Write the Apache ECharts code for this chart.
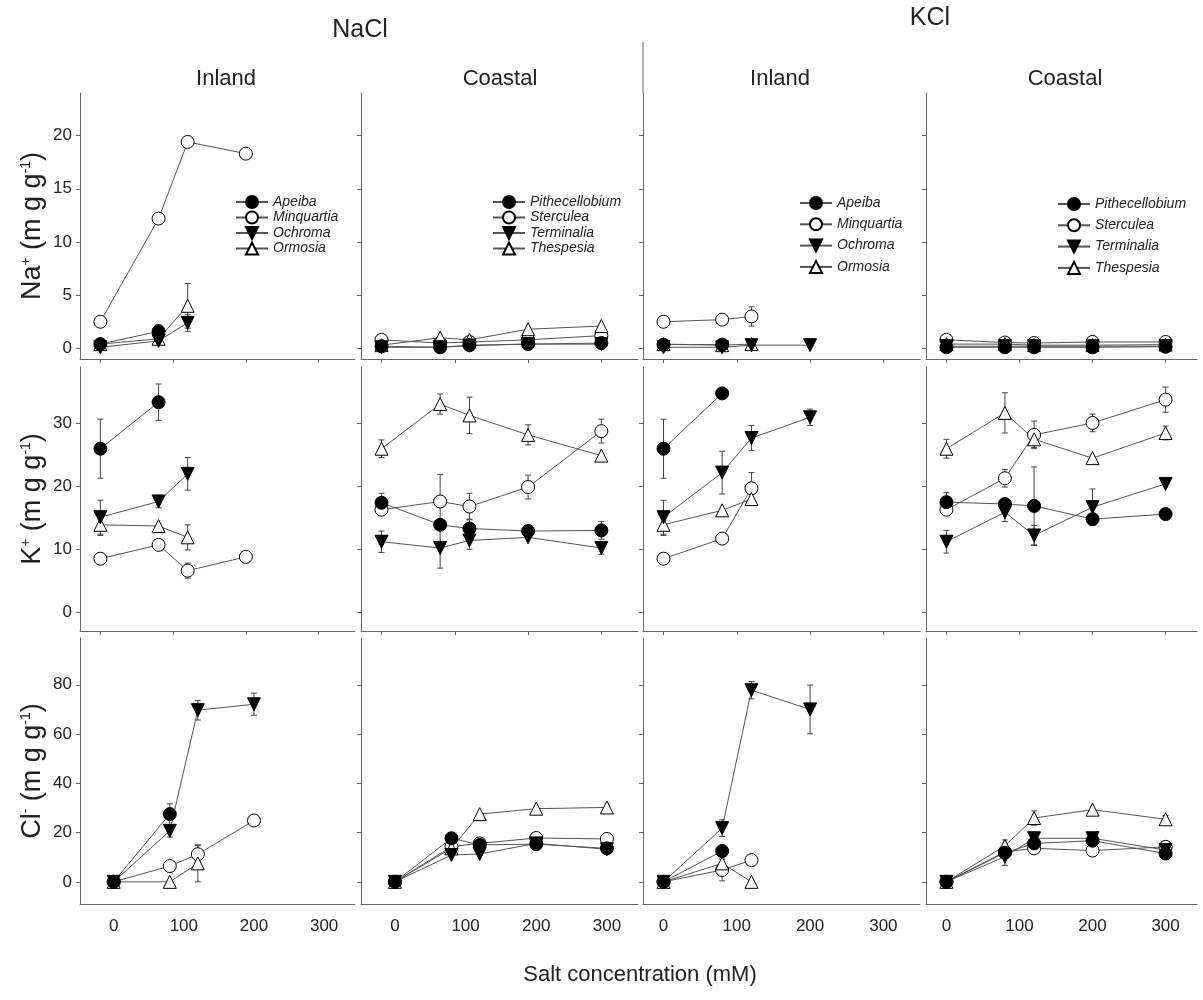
<!DOCTYPE html>
<html>
<head>
<meta charset="utf-8">
<script src="https://cdn.jsdelivr.net/npm/echarts@6/dist/echarts.min.js"></script>
<style>
html, body { margin: 0; background: #fff; }
#main { width: 1203px; height: 1000px; }
</style>
</head>
<body>
<div id="main"></div>
<script>
// salt levels (mM) shared by every panel
const saltLevels = [0, 80, 120, 200, 300];
const inlandSpecies = ['Apeiba', 'Minquartia', 'Ochroma', 'Ormosia'];
const coastalSpecies = ['Pithecellobium', 'Sterculea', 'Terminalia', 'Thespesia'];
const xTicks = [0, 100, 200, 300];
const naTicks = [0, 5, 10, 15, 20];
const kTicks = [0, 10, 20, 30];
const clTicks = [0, 20, 40, 60, 80];

// Na+ (mg g-1), one row per species, null = not measured
const naNaClInland = [
    [0.4, 1.6, null, null, null],
    [2.5, 12.2, 19.4, 18.3, null],
    [0.1, 0.7, 2.4, null, null],
    [0.4, 0.9, 4.0, null, null]
];
const naNaClInlandErr = [
    [null, 0.6, null, null, null],
    [null, null, null, null, null],
    [null, null, 0.8, null, null],
    [null, null, 2.1, null, null]
];
const naNaClCoastal = [
    [0.2, 0.1, 0.3, 0.4, 0.5],
    [0.8, 0.5, 0.6, 0.8, 1.2],
    [0.1, 0.1, 0.25, 0.4, 0.4],
    [0.3, 1.0, 0.8, 1.8, 2.1]
];
const naNaClCoastalErr = [
    [null, null, null, null, null],
    [null, null, null, null, null],
    [null, null, null, null, null],
    [null, null, null, null, null]
];
const naKClInland = [
    [0.35, 0.35, null, null, null],
    [2.5, 2.7, 3.0, null, null],
    [0.1, 0.1, 0.3, 0.3, null],
    [0.4, 0.3, 0.4, null, null]
];
const naKClInlandErr = [
    [null, null, null, null, null],
    [null, null, 0.9, null, null],
    [null, null, null, null, null],
    [null, null, null, null, null]
];
const naKClCoastal = [
    [0.1, 0.1, 0.1, 0.1, 0.15],
    [0.8, 0.55, 0.5, 0.6, 0.6],
    [0.2, 0.2, 0.2, 0.2, 0.2],
    [0.4, 0.4, 0.3, 0.3, 0.35]
];
const naKClCoastalErr = [
    [null, null, null, null, null],
    [null, null, null, null, null],
    [null, null, null, null, null],
    [null, null, null, null, null]
];

// K+ (mg g-1)
const kNaClInland = [
    [26.0, 33.4, null, null, null],
    [8.5, 10.7, 6.6, 8.8, null],
    [15.1, 17.6, 22.0, null, null],
    [13.9, 13.7, 11.9, null, null]
];
const kNaClInlandErr = [
    [4.7, 2.9, null, null, null],
    [null, null, 1.2, null, null],
    [2.7, 1.0, 2.6, null, null],
    [1.7, null, 2.0, null, null]
];
const kNaClCoastal = [
    [17.4, 13.9, 13.3, 12.9, 13.0],
    [16.3, 17.6, 16.8, 19.9, 28.8],
    [11.2, 10.2, 11.4, 11.9, 10.2],
    [26.0, 33.1, 31.3, 28.2, 24.9]
];
const kNaClCoastalErr = [
    [1.5, null, 1.5, 0.8, 1.4],
    [null, 4.3, 2.1, 1.9, 1.9],
    [1.7, 3.2, 1.4, null, 1.0],
    [1.4, 1.6, 2.9, 1.6, null]
];
const kKClInland = [
    [26.0, 34.8, null, null, null],
    [8.5, 11.7, 19.7, null, null],
    [15.1, 22.2, 27.7, 31.0, null],
    [13.9, 16.2, 18.0, null, null]
];
const kKClInlandErr = [
    [4.7, null, null, null, null],
    [null, null, 2.5, null, null],
    [2.7, 3.4, 2.0, 1.3, null],
    [1.7, null, 0.8, null, null]
];
const kKClCoastal = [
    [17.5, 17.2, 16.9, 14.8, 15.6],
    [16.3, 21.3, 28.2, 30.1, 33.8],
    [11.2, 15.9, 12.2, 16.7, 20.4],
    [26.0, 31.7, 27.5, 24.5, 28.5]
];
const kKClCoastalErr = [
    [1.5, null, 6.2, null, null],
    [null, 1.4, 2.2, 1.4, 2.0],
    [1.8, 1.5, 1.6, 2.9, null],
    [1.5, 3.2, 1.3, null, 1.1]
];

// Cl- (mg g-1)
const clNaClInland = [
    [0, 27.5, null, null, null],
    [0, 6.4, 11.2, 24.9, null],
    [0, 20.7, 69.7, 72.1, null],
    [0, 0, 7.5, null, null]
];
const clNaClInlandErr = [
    [null, 4.2, null, null, null],
    [null, null, 3.5, null, null],
    [null, 2.5, 4.0, 4.5, null],
    [null, null, 7.5, null, null]
];
const clNaClCoastal = [
    [0, 17.7, 15.0, 15.3, 13.6],
    [0, 14.3, 15.6, 17.8, 17.4],
    [0, 10.9, 11.3, 15.6, 13.2],
    [0, 13.6, 27.5, 29.7, 30.2]
];
const clNaClCoastalErr = [
    [null, null, null, null, null],
    [null, null, null, null, null],
    [null, null, null, null, 1.5],
    [null, null, null, null, null]
];
const clKClInland = [
    [0, 12.5, null, null, null],
    [0, 4.8, 8.8, null, null],
    [0, 21.8, 77.8, 70.0, null],
    [0, 7.5, 0, null, null]
];
const clKClInlandErr = [
    [null, null, null, null, null],
    [null, 4.4, null, null, null],
    [null, 3.4, 3.5, 9.9, null],
    [null, null, null, null, null]
];
const clKClCoastal = [
    [0, 11.8, 15.6, 16.7, 11.5],
    [0, 12.2, 13.6, 12.7, 14.2],
    [0, 10.2, 17.7, 17.7, 12.9],
    [0, 14.6, 25.9, 29.3, 25.4]
];
const clKClCoastalErr = [
    [null, null, null, null, null],
    [null, null, null, null, null],
    [null, 3.5, null, null, null],
    [null, 2.4, 2.9, null, 1.5]
];

var FONT = "'Liberation Sans Narrow', 'Liberation Sans', Arial, sans-serif";
var AXIS_COLOR = '#666';

var panels = [
    [naNaClInland, naNaClInlandErr], [naNaClCoastal, naNaClCoastalErr], [naKClInland, naKClInlandErr], [naKClCoastal, naKClCoastalErr],
    [kNaClInland, kNaClInlandErr], [kNaClCoastal, kNaClCoastalErr], [kKClInland, kKClInlandErr], [kKClCoastal, kKClCoastalErr],
    [clNaClInland, clNaClInlandErr], [clNaClCoastal, clNaClCoastalErr], [clKClInland, clKClInlandErr], [clKClCoastal, clKClCoastalErr]
];

var colLeft = [80, 361, 643, 926];
var colWidth = [275, 277, 277, 271];
var rowTop = [93, 367, 638];
var rowHeight = [266, 264, 266];
var yRange = [[-1, 24], [-3, 39], [-9, 99]];
var yTicks = [naTicks, kTicks, clTicks];
var yNames = [
    '{a|Na}{s|+}{a| (m g g}{s|-1}{a|)}',
    '{a|K}{s|+}{a| (m g g}{s|-1}{a|)}',
    '{a|Cl}{s|-}{a| (m g g}{s|-1}{a|)}'
];

var markers = [
    { symbol: 'circle', size: 13, rotate: 0, fill: '#000' },
    { symbol: 'circle', size: 13, rotate: 0, fill: '#fff' },
    { symbol: 'triangle', size: 13, rotate: 180, fill: '#000' },
    { symbol: 'triangle', size: 13, rotate: 0, fill: '#fff' }
];

function points(vals) {
    var res = [];
    for (var i = 0; i < saltLevels.length; i++) {
        if (vals[i] != null) res.push([saltLevels[i], vals[i]]);
    }
    return res;
}

function errPoints(vals, errs) {
    var res = [];
    for (var k = 0; k < vals.length; k++) {
        for (var i = 0; i < saltLevels.length; i++) {
            if (vals[k][i] != null && errs[k][i] != null) {
                res.push([saltLevels[i], vals[k][i], errs[k][i]]);
            }
        }
    }
    return res;
}

function renderErr(params, api) {
    var x = api.value(0), y = api.value(1), e = api.value(2);
    var top = api.coord([x, y + e]);
    var bot = api.coord([x, y - e]);
    var w = 3;
    var st = { stroke: '#444', lineWidth: 1 };
    return {
        type: 'group',
        children: [
            { type: 'line', shape: { x1: top[0], y1: top[1], x2: bot[0], y2: bot[1] }, style: st },
            { type: 'line', shape: { x1: top[0] - w, y1: top[1], x2: top[0] + w, y2: top[1] }, style: st },
            { type: 'line', shape: { x1: bot[0] - w, y1: bot[1], x2: bot[0] + w, y2: bot[1] }, style: st }
        ]
    };
}

var grids = [], xAxes = [], yAxes = [], series = [];

for (var p = 0; p < 12; p++) {
    var r = Math.floor(p / 4), c = p % 4;
    var species = c % 2 === 0 ? inlandSpecies : coastalSpecies;
    grids.push({ left: colLeft[c], top: rowTop[r], width: colWidth[c], height: rowHeight[r] });

    var wideX = r === 2 && c < 2;
    xAxes.push({
        type: 'value', gridIndex: p,
        min: wideX ? -48 : -28,
        max: c === 3 ? 343 : (wideX ? 344 : 350),
        axisLine: { show: true, onZero: false, lineStyle: { color: AXIS_COLOR, width: 1 } },
        axisTick: { show: r < 2, customValues: xTicks, length: 4, lineStyle: { color: AXIS_COLOR } },
        axisLabel: {
            show: r === 2, customValues: xTicks, margin: 14,
            fontFamily: FONT, fontSize: 17, color: '#222'
        },
        splitLine: { show: false }
    });

    yAxes.push({
        type: 'value', gridIndex: p,
        min: yRange[r][0], max: yRange[r][1],
        axisLine: { show: true, onZero: false, lineStyle: { color: AXIS_COLOR, width: 1 } },
        axisTick: { show: true, customValues: yTicks[r], length: 4, lineStyle: { color: AXIS_COLOR } },
        axisLabel: {
            show: c === 0, customValues: yTicks[r], margin: 8,
            fontFamily: FONT, fontSize: 17, color: '#222'
        },
        splitLine: { show: false },
        name: c === 0 ? yNames[r] : '',
        nameLocation: 'middle',
        nameRotate: 90,
        nameGap: 34,
        nameTextStyle: {
            rich: {
                a: { fontFamily: FONT, fontSize: 27, color: '#222' },
                s: { fontFamily: FONT, fontSize: 14, color: '#222', verticalAlign: 'top' }
            }
        }
    });

    var vals = panels[p][0], errs = panels[p][1];
    series.push({
        type: 'custom', xAxisIndex: p, yAxisIndex: p, z: 1, silent: true,
        renderItem: renderErr,
        encode: { x: 0, y: 1 },
        data: errPoints(vals, errs)
    });
    for (var k = 0; k < 4; k++) {
        var m = markers[k];
        series.push({
            type: 'line', name: species[k], xAxisIndex: p, yAxisIndex: p,
            data: points(vals[k]),
            symbol: m.symbol, symbolSize: m.size, symbolRotate: m.rotate,
            showAllSymbol: true,
            lineStyle: { color: '#555', width: 1 },
            itemStyle: { color: m.fill, borderColor: '#000', borderWidth: 1 },
            emphasis: { disabled: true },
            z: 2 + (k === 0 || k === 2 ? 1 : 0)
        });
    }
}

var legendPos = [[235, 195, 1.5], [492, 195, 1.5], [799, 196, 7.3], [1057, 197, 7.3]];
var legends = legendPos.map(function (lp, i) {
    return {
        orient: 'vertical', left: lp[0], top: lp[1], itemGap: lp[2],
        itemWidth: 32, itemHeight: 15, padding: 0,
        selectedMode: false,
        data: i % 2 === 0 ? inlandSpecies : coastalSpecies,
        textStyle: { fontFamily: FONT, fontStyle: 'italic', fontSize: 14, color: '#222' }
    };
});

function headerText(x, y, txt, size) {
    return {
        type: 'text', x: x, y: y,
        style: { text: txt, font: size + 'px ' + FONT, fill: '#222', textAlign: 'center', textVerticalAlign: 'middle' }
    };
}

var option = {
    backgroundColor: '#fff',
    animation: false,
    grid: grids,
    xAxis: xAxes,
    yAxis: yAxes,
    legend: legends,
    series: series,
    graphic: [
        headerText(360, 30, 'NaCl', 25),
        headerText(930, 18, 'KCl', 25),
        headerText(226, 79, 'Inland', 22),
        headerText(500, 79, 'Coastal', 22),
        headerText(780, 79, 'Inland', 22),
        headerText(1065, 79, 'Coastal', 22),
        headerText(640, 975, 'Salt concentration (mM)', 22),
        {
            type: 'line',
            shape: { x1: 643, y1: 42, x2: 643, y2: 93 },
            style: { stroke: AXIS_COLOR, lineWidth: 1 }
        }
    ]
};

var myChart = echarts.init(document.getElementById('main'));
myChart.setOption(option);
</script>
</body>
</html>
